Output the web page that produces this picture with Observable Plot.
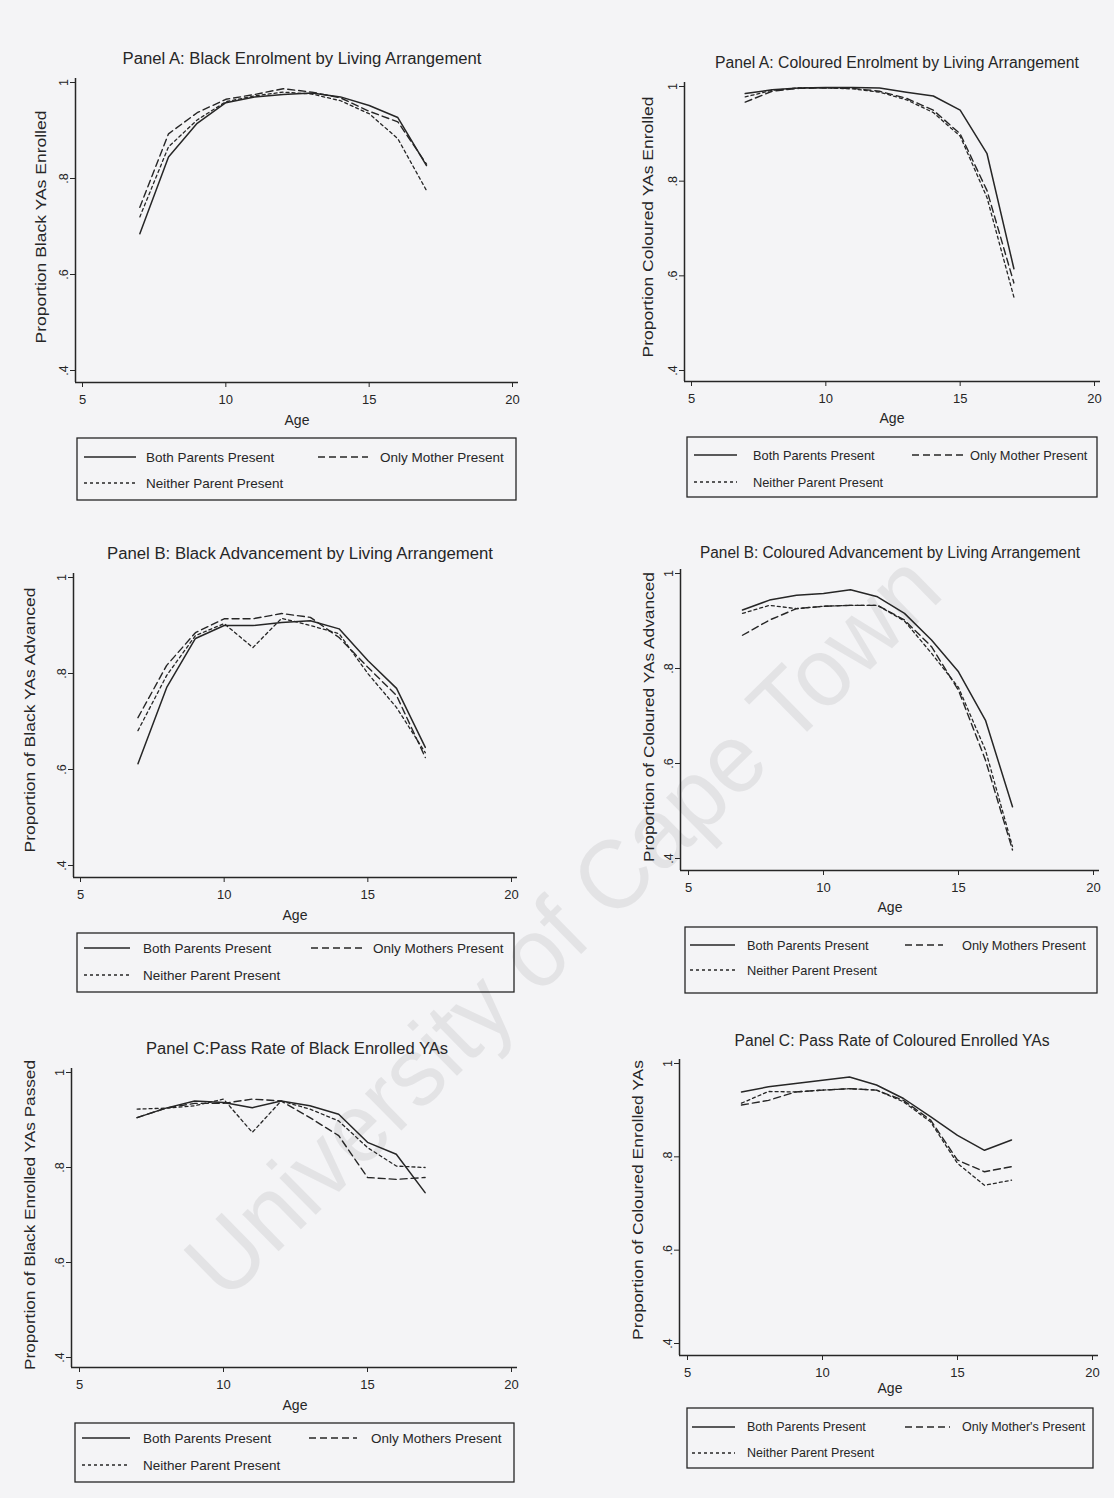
<!DOCTYPE html>
<html><head><meta charset="utf-8">
<script src="https://cdn.jsdelivr.net/npm/d3@7"></script>
<script src="https://cdn.jsdelivr.net/npm/@observablehq/plot@0.6"></script>
<style>
html,body{margin:0;padding:0;background:#f4f4f6;}
#page{position:relative;width:1114px;height:1498px;overflow:hidden;background:#f4f4f6;}
#page > svg{position:absolute;}
</style></head><body><div id="page"></div>
<script>
// ---------- data ----------
const ages = [7, 8, 9, 10, 11, 12, 13, 14, 15, 16, 17];
const xTicks = [5, 10, 15, 20];
const yTicks = [0.4, 0.6, 0.8, 1];

const blackEnrolBoth    = [0.685, 0.845, 0.915, 0.958, 0.970, 0.975, 0.978, 0.970, 0.952, 0.927, 0.827];
const blackEnrolMother  = [0.740, 0.893, 0.937, 0.965, 0.975, 0.987, 0.980, 0.968, 0.940, 0.918, 0.830];
const blackEnrolNeither = [0.720, 0.866, 0.922, 0.960, 0.972, 0.980, 0.976, 0.962, 0.935, 0.883, 0.775];

const colEnrolBoth    = [0.985, 0.993, 0.997, 0.998, 0.998, 0.997, 0.988, 0.980, 0.950, 0.858, 0.615];
const colEnrolMother  = [0.967, 0.990, 0.996, 0.997, 0.996, 0.990, 0.975, 0.950, 0.900, 0.780, 0.585];
const colEnrolNeither = [0.978, 0.992, 0.997, 0.997, 0.995, 0.988, 0.972, 0.945, 0.895, 0.765, 0.555];

const blackAdvBoth    = [0.612, 0.771, 0.873, 0.900, 0.900, 0.906, 0.910, 0.893, 0.827, 0.769, 0.646];
const blackAdvMother  = [0.708, 0.817, 0.885, 0.914, 0.914, 0.925, 0.917, 0.875, 0.813, 0.754, 0.625];
const blackAdvNeither = [0.681, 0.796, 0.879, 0.904, 0.854, 0.915, 0.900, 0.883, 0.800, 0.729, 0.635];

const colAdvBoth    = [0.923, 0.944, 0.954, 0.958, 0.966, 0.951, 0.916, 0.860, 0.793, 0.691, 0.509];
const colAdvMother  = [0.870, 0.902, 0.926, 0.931, 0.933, 0.933, 0.902, 0.846, 0.754, 0.607, 0.418];
const colAdvNeither = [0.916, 0.933, 0.926, 0.931, 0.933, 0.933, 0.900, 0.832, 0.760, 0.628, 0.425];

const blackPassBoth    = [0.905, 0.925, 0.940, 0.937, 0.926, 0.940, 0.930, 0.912, 0.853, 0.828, 0.747];
const blackPassMother  = [0.905, 0.925, 0.935, 0.935, 0.944, 0.940, 0.905, 0.867, 0.779, 0.775, 0.779];
const blackPassNeither = [0.923, 0.925, 0.930, 0.944, 0.874, 0.940, 0.923, 0.898, 0.842, 0.803, 0.800];

const colPassBoth    = [0.939, 0.950, 0.957, 0.964, 0.971, 0.954, 0.925, 0.886, 0.846, 0.814, 0.836];
const colPassMother  = [0.911, 0.921, 0.939, 0.943, 0.946, 0.943, 0.921, 0.879, 0.793, 0.768, 0.779];
const colPassNeither = [0.915, 0.940, 0.939, 0.943, 0.946, 0.943, 0.918, 0.875, 0.786, 0.739, 0.750];

const titles = [
  "Panel A: Black Enrolment by Living Arrangement",
  "Panel A: Coloured Enrolment by Living Arrangement",
  "Panel B: Black Advancement by Living Arrangement",
  "Panel B: Coloured Advancement by Living Arrangement",
  "Panel C:Pass Rate of Black Enrolled YAs",
  "Panel C: Pass Rate of Coloured Enrolled YAs"
];
const yLabels = [
  "Proportion Black YAs Enrolled",
  "Proportion Coloured YAs Enrolled",
  "Proportion of Black YAs Advanced",
  "Proportion of Coloured YAs Advanced",
  "Proportion of Black Enrolled YAs Passed",
  "Proportion of Coloured Enrolled YAs"
];
const xLabel = "Age";
const legendBoth = "Both Parents Present";
const legendNeither = "Neither Parent Present";
const legendMother = ["Only Mother Present", "Only Mother Present", "Only Mothers Present",
                      "Only Mothers Present", "Only Mothers Present", "Only Mother's Present"];
const watermark = "University of Cape Town";

// ---------- layout / styles ----------
const FONT = "'Liberation Sans', Arial, Helvetica, sans-serif";
const INK = "#262626";
const lineStyles = [
  {dash: null, width: 1.5},        // both parents
  {dash: "7,4", width: 1.4},       // only mother
  {dash: "3,3", width: 1.3}        // neither
];

const layout = [
  {frame:{x5:82,x20:512,y1:82,y4:370,left:75,bottom:382}, title:[302,58,359], ylab:[41,227,233], age:[297,420],
   legend:{box:[77,438,516,500], rows:[457,483], s1:[84,136], t1:146, s2:[318,368], t2:380, fs:13.5}},
  {frame:{x5:691,x20:1094,y1:86,y4:370,left:684,bottom:381}, title:[897,62,364], ylab:[648,227,261], age:[892,418],
   legend:{box:[687,437,1097,497], rows:[455,482], s1:[694,737], t1:753, s2:[912,963], t2:970, fs:12.8}},
  {frame:{x5:80,x20:511,y1:577,y4:865,left:73,bottom:877}, title:[300,553,386], ylab:[30,720,265], age:[295,915],
   legend:{box:[77,933,514,992], rows:[948,975], s1:[84,130], t1:143, s2:[311,364], t2:373, fs:13.5}},
  {frame:{x5:688,x20:1093,y1:573,y4:858,left:680,bottom:870}, title:[890,552,380], ylab:[649,717,290], age:[890,907],
   legend:{box:[685,927,1097,993], rows:[945,970], s1:[690,735], t1:747, s2:[905,943], t2:962, fs:12.8}},
  {frame:{x5:79,x20:511,y1:1072,y4:1357,left:71,bottom:1367}, title:[297,1048,302], ylab:[30,1215,310], age:[295,1405],
   legend:{box:[75,1423,514,1482], rows:[1438,1465], s1:[82,130], t1:143, s2:[309,357], t2:371, fs:13.5}},
  {frame:{x5:687,x20:1092,y1:1063,y4:1343,left:679,bottom:1355}, title:[892,1040,315], ylab:[638,1200,280], age:[890,1388],
   legend:{box:[687,1408,1093,1468], rows:[1427,1453], s1:[692,735], t1:747, s2:[905,950], t2:962, fs:12.5}}
];

const panelSeries = [
  [blackEnrolBoth, blackEnrolMother, blackEnrolNeither],
  [colEnrolBoth, colEnrolMother, colEnrolNeither],
  [blackAdvBoth, blackAdvMother, blackAdvNeither],
  [colAdvBoth, colAdvMother, colAdvNeither],
  [blackPassBoth, blackPassMother, blackPassNeither],
  [colPassBoth, colPassMother, colPassNeither]
];

const page = document.getElementById("page");

// watermark (behind everything)
const bg = d3.select(page).append("svg")
  .attr("width", 1114).attr("height", 1498).style("left", "0px").style("top", "0px");
bg.append("text")
  .attr("transform", "translate(562,925) rotate(-44.5)")
  .attr("text-anchor", "middle").attr("dominant-baseline", "central")
  .attr("font-family", FONT).attr("font-size", 98)
  .attr("textLength", 1010).attr("lengthAdjust", "spacingAndGlyphs")
  .attr("fill", "#e3e3e5").text(watermark);

const fmtY = d => d === 1 ? "1" : d.toFixed(1).replace(/^0/, "");

// ---------- plots ----------
const mL = 70, mR = 8, mT = 8, mB = 50;
layout.forEach((L, p) => {
  const f = L.frame;
  const kx = (f.x20 - f.x5) / 15;
  const ky = (f.y4 - f.y1) / 0.6;
  const xa = 5 - (f.x5 - f.left) / kx;
  const xb = 20 + 6 / kx;
  const ya = 0.4 - (f.bottom - f.y4) / ky;
  const yb = 1 + 4 / ky;
  const plotW = (f.x20 + 6 - f.left);
  const plotH = (f.bottom - (f.y1 - 4));
  const lines = panelSeries[p].map((vals, i) =>
    Plot.line(ages.map((a, j) => ({age: a, value: vals[j]})), {
      x: "age", y: "value", stroke: INK,
      strokeWidth: lineStyles[i].width,
      strokeDasharray: lineStyles[i].dash || undefined,
      strokeLinejoin: "round"
    })
  );
  const chart = Plot.plot({
    width: plotW + mL + mR,
    height: plotH + mT + mB,
    marginLeft: mL, marginRight: mR, marginTop: mT, marginBottom: mB,
    x: {domain: [xa, xb]},
    y: {domain: [ya, yb]},
    style: {background: "transparent", fontFamily: FONT, fontSize: "13px", color: INK, overflow: "visible"},
    marks: [
      Plot.ruleX([xa], {stroke: INK, strokeWidth: 1.5}),
      Plot.ruleY([ya], {stroke: INK, strokeWidth: 1.5}),
      Plot.axisX({ticks: xTicks, tickSize: 5, tickPadding: 7, tickFormat: d => String(d), label: null, fontSize: 13, stroke: INK}),
      Plot.axisY({ticks: yTicks, tickSize: 5, tickPadding: 3, tickFormat: fmtY, tickRotate: -90, label: null, fontSize: 12.5, stroke: INK}),
      ...lines
    ]
  });
  chart.style.left = (f.left - mL) + "px";
  chart.style.top = (f.y1 - 4 - mT) + "px";
  chart.style.position = "absolute";
  page.appendChild(chart);
});

// ---------- titles, axis titles, legends ----------
const ov = d3.select(page).append("svg")
  .attr("width", 1114).attr("height", 1498).style("left", "0px").style("top", "0px")
  .attr("font-family", FONT).attr("fill", INK);

layout.forEach((L, p) => {
  ov.append("text").attr("x", L.title[0]).attr("y", L.title[1])
    .attr("text-anchor", "middle").attr("dominant-baseline", "central")
    .attr("font-size", 16).attr("textLength", L.title[2]).attr("lengthAdjust", "spacingAndGlyphs")
    .text(titles[p]);
  ov.append("text")
    .attr("transform", `translate(${L.ylab[0]},${L.ylab[1]}) rotate(-90)`)
    .attr("text-anchor", "middle").attr("dominant-baseline", "central")
    .attr("font-size", 14).attr("textLength", L.ylab[2]).attr("lengthAdjust", "spacingAndGlyphs")
    .text(yLabels[p]);
  ov.append("text").attr("x", L.age[0]).attr("y", L.age[1])
    .attr("text-anchor", "middle").attr("dominant-baseline", "central")
    .attr("font-size", 14).text(xLabel);

  const g = L.legend;
  ov.append("rect").attr("x", g.box[0]).attr("y", g.box[1])
    .attr("width", g.box[2] - g.box[0]).attr("height", g.box[3] - g.box[1])
    .attr("fill", "none").attr("stroke", INK).attr("stroke-width", 1.3);
  const items = [
    {s: g.s1, t: g.t1, row: g.rows[0], style: lineStyles[0], label: legendBoth},
    {s: g.s2, t: g.t2, row: g.rows[0], style: lineStyles[1], label: legendMother[p]},
    {s: g.s1, t: g.t1, row: g.rows[1], style: lineStyles[2], label: legendNeither}
  ];
  items.forEach(it => {
    const ln = ov.append("line").attr("x1", it.s[0]).attr("x2", it.s[1])
      .attr("y1", it.row).attr("y2", it.row)
      .attr("stroke", INK).attr("stroke-width", it.style.width);
    if (it.style.dash) ln.attr("stroke-dasharray", it.style.dash);
    ov.append("text").attr("x", it.t).attr("y", it.row)
      .attr("dominant-baseline", "central").attr("font-size", g.fs).text(it.label);
  });
});
</script>
</body></html>
